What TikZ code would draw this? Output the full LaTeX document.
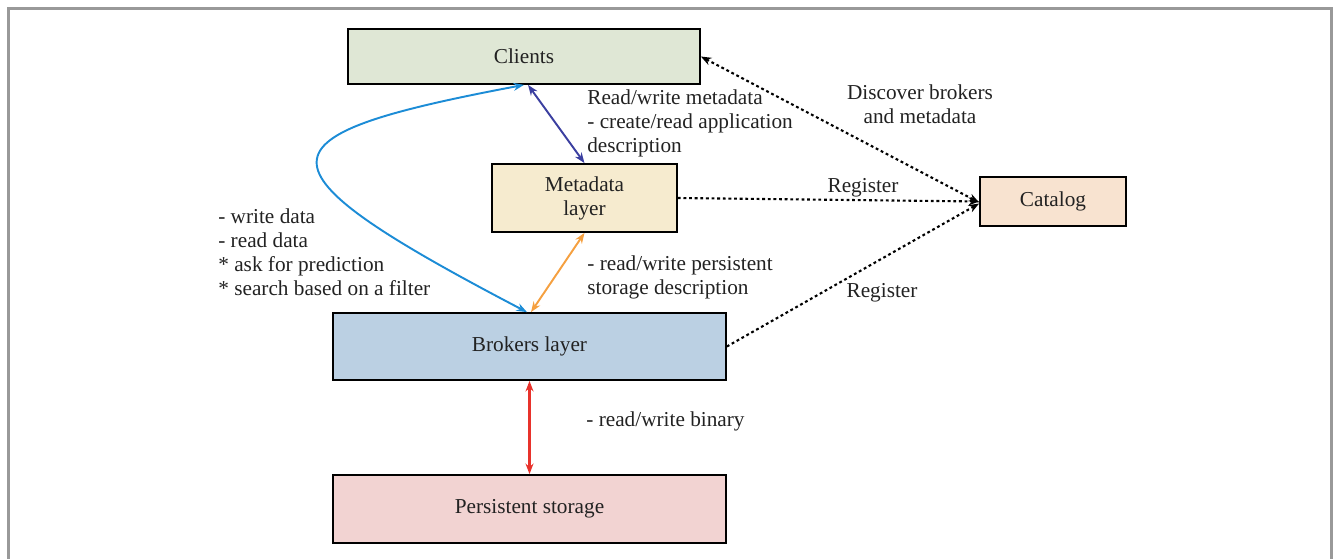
\documentclass[tikz,border=0pt]{standalone}
\usepackage{fontspec}
\setmainfont{Liberation Serif}
\usepackage{tikz}
\usetikzlibrary{arrows.meta,positioning}
\definecolor{clientgreen}{HTML}{DFE7D5}
\definecolor{metayellow}{HTML}{F6EBCF}
\definecolor{catalogpeach}{HTML}{F8E3D0}
\definecolor{brokerblue}{HTML}{BBD0E3}
\definecolor{storagepink}{HTML}{F2D3D2}
\definecolor{flowblue}{HTML}{1C8CD6}
\definecolor{metablue}{HTML}{3B3FA0}
\definecolor{persistorange}{HTML}{F5A040}
\definecolor{binaryred}{HTML}{E8322B}
\definecolor{framegray}{HTML}{999999}
\definecolor{labeltext}{HTML}{222222}

\begin{document}
\begin{tikzpicture}[
    x=0.02cm, y=-0.02cm,
    >={Stealth[length=6pt,width=4.5pt]},
    every node/.style={font=\fontsize{12.1}{13.6}\selectfont, text=labeltext},
    layer/.style={
        rectangle,
        draw=black,
        line width=1pt,
        inner sep=0pt
    },
    note/.style={
        align=left,
        anchor=base west,
        inner sep=0pt
    },
    datalink/.style={<->, line width=1.1pt},
    reglink/.style={->, line width=1.2pt, dash pattern=on 1.6pt off 1.6pt}
]
    \useasboundingbox (0,0) rectangle (1334,558);

    % === FRAME ===
    \draw[framegray, line width=1.7pt] (8.5,560) -- (8.5,8.5) -- (1331,8.5) -- (1331,560);

    % === LAYERS ===
    \node[layer, fill=clientgreen, minimum width=7.04cm, minimum height=1.1cm] (clients) at (524,56.5) {Clients};
    \node[layer, fill=metayellow, minimum width=3.7cm, minimum height=1.36cm, align=center] (metalayer) at (584.5,198) {Metadata\\layer};
    \node[layer, fill=catalogpeach, minimum width=2.92cm, minimum height=0.98cm] (catalog) at (1053,201.5) {Catalog};
    \node[layer, fill=brokerblue, minimum width=7.86cm, minimum height=1.34cm] (brokers) at (529.5,346.5) {Brokers layer};
    \node[layer, fill=storagepink, minimum width=7.86cm, minimum height=1.36cm] (storage) at (529.5,509) {Persistent storage};

    % === DATA LINKS ===
    \draw[datalink, flowblue] (clients.south) .. controls +(-270,51) and +(-283,-148) .. ([xshift=-0.05cm]brokers.north);
    \draw[datalink, metablue] ([xshift=0.08cm]clients.south) -- (metalayer.north);
    \draw[datalink, persistorange] (metalayer.south) -- ([xshift=0.03cm]brokers.north);
    \draw[datalink, binaryred, line width=1.4pt] (brokers.south) -- (storage.north);

    % === REGISTRATION ===
    \draw[reglink, <->] (clients.east) -- ([yshift=-0.02cm]catalog.west);
    \draw[reglink] (metalayer.east) -- (catalog.west);
    \draw[reglink] (brokers.east) -- ([yshift=-0.04cm]catalog.west);

    % Labels (base = last line)
    \node[note] (metanote) at (587,152) {Read/write metadata\\- create/read application\\description};
    \node[align=center, anchor=base, inner sep=0pt] (discover) at (920,123) {Discover brokers\\and metadata};
    \node[anchor=base, inner sep=0pt] (regmeta) at (863,192) {Register};
    \node[anchor=base, inner sep=0pt] (regbroker) at (882,297) {Register};
    \node[note] (datanote) at (218,295) {- write data\\- read data\\* ask for prediction\\* search based on a filter};
    \node[note] (persistnote) at (587,294) {- read/write persistent\\storage description};
    \node[note] (binarynote) at (586,426) {- read/write binary};
\end{tikzpicture}
\end{document}
